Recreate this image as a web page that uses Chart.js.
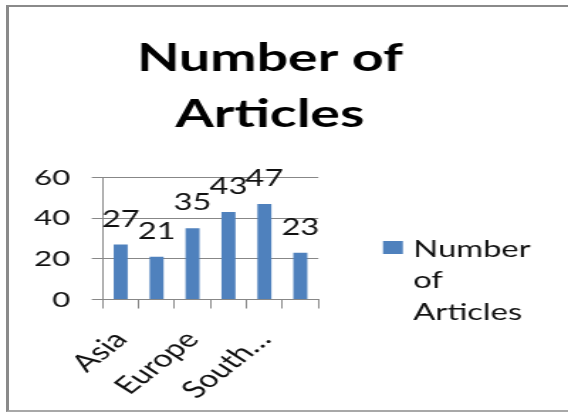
<!DOCTYPE html>
<html><head><meta charset="utf-8">
<script src="https://cdn.jsdelivr.net/npm/chart.js@4.4.1/dist/chart.umd.min.js"></script>
<style>
html,body{margin:0;padding:0;background:#fff;width:568px;height:412px;overflow:hidden;}
#frame{position:absolute;left:6px;top:5px;width:620px;height:407px;box-sizing:border-box;border-left:3px solid #8a8a8a;border-top:2px solid #8a8a8a;border-bottom:2px solid #a8a8a8;}
#wrap{position:absolute;left:0;top:0;transform-origin:0 0;}
canvas{display:block;}
</style></head><body>
<div id="frame"></div>
<div id="wrap"><canvas id="c"></canvas></div>
<script>
const categories = ['Asia', 'Africa', 'Europe', 'North America', 'South America', 'Oceania'];
const articleCounts = [27, 21, 35, 43, 47, 23];
const yTicks = [0, 20, 40, 60];
const seriesName = 'Number of Articles';
const titleLines = ['Number of', 'Articles'];
const legendLines = ['Number', 'of', 'Articles'];

const S = 1.42;              // horizontal stretch of the reference picture
const W = Math.round(540 / S), H = 412;
const wrap = document.getElementById('wrap');
wrap.style.transform = 'scaleX(' + S + ')';
const cv = document.getElementById('c');
cv.width = W; cv.height = H;
cv.style.width = W + 'px'; cv.style.height = H + 'px';

const GRID = '#878787';
const TXT = '#111111';
const plotLeft = 102.7 / S, plotRight = 318.3 / S, plotTop = 177.5, plotBottom = 299.5;

function shorten(s) { return s.length > 6 ? s.split(' ')[0] + '\u2026' : s; }

const dataLabels = {
  id: 'dataLabels',
  afterDatasetsDraw(chart) {
    const ctx = chart.ctx, meta = chart.getDatasetMeta(0);
    ctx.save();
    ctx.font = '23px Lato';
    ctx.fillStyle = TXT;
    ctx.textAlign = 'center';
    ctx.textBaseline = 'alphabetic';
    meta.data.forEach((bar, i) => ctx.fillText(String(articleCounts[i]), bar.x, bar.y - 18));
    ctx.restore();
  }
};

const sideLegend = {
  id: 'sideLegend',
  afterDraw(chart) {
    const ctx = chart.ctx, a = chart.chartArea;
    const x0 = a.right + (383 - 318.3) / S;
    ctx.save();
    ctx.fillStyle = '#4F81BD';
    ctx.fillRect(x0, 241, 14, 13);
    ctx.font = '23px Lato';
    ctx.fillStyle = TXT;
    ctx.textAlign = 'left';
    ctx.textBaseline = 'alphabetic';
    const tx = a.right + (413.3 - 318.3) / S;
    legendLines.forEach((l, i) => ctx.fillText(l, tx, 256.7 + i * 31.7));
    ctx.restore();
  }
};

function draw() {
  new Chart(cv, {
    type: 'bar',
    data: {
      labels: categories,
      datasets: [{
        label: seriesName,
        data: articleCounts,
        backgroundColor: '#4F81BD',
        borderWidth: 0,
        barPercentage: 0.39,
        categoryPercentage: 1
      }]
    },
    options: {
      responsive: false,
      animation: false,
      devicePixelRatio: 1,
      layout: { padding: 0 },
      plugins: {
        legend: { display: false },
        tooltip: { enabled: false },
        title: {
          display: true,
          text: titleLines,
          color: '#000',
          font: { family: 'Lato', size: 39, weight: 'bold', lineHeight: 1.45 },
          padding: { top: 30, bottom: plotTop - 30 - 2 * 39 * 1.45 }
        }
      },
      scales: {
        x: {
          afterFit(s) { s.height = H - plotBottom; },
          grid: { display: true, drawOnChartArea: false, drawTicks: true, tickLength: 9, color: GRID, offset: true },
          border: { display: true, color: GRID },
          ticks: {
            autoSkip: false, minRotation: 48, maxRotation: 48, padding: 17,
            color: TXT, font: { family: 'Lato', size: 24 },
            callback: (v, i) => (i % 2 === 0 ? shorten(categories[i]) : '')
          }
        },
        y: {
          min: yTicks[0], max: yTicks[yTicks.length - 1],
          afterFit(s) { s.width = plotLeft; },
          afterBuildTicks(s) { s.ticks = yTicks.map(v => ({ value: v })); },
          grid: { color: GRID, tickLength: 7.7 },
          border: { display: true, color: GRID },
          ticks: { color: TXT, padding: 15, font: { family: 'Lato', size: 22 } }
        },
        spacer: {
          type: 'linear', position: 'right', display: true,
          afterFit(s) { s.width = W - plotRight; },
          grid: { display: false, drawTicks: false },
          border: { display: false },
          ticks: { display: false }
        }
      }
    },
    plugins: [dataLabels, sideLegend]
  });
}
Promise.all([document.fonts.load('bold 39px Lato'), document.fonts.load('24px Lato')]).then(draw, draw);
</script>
</body></html>
